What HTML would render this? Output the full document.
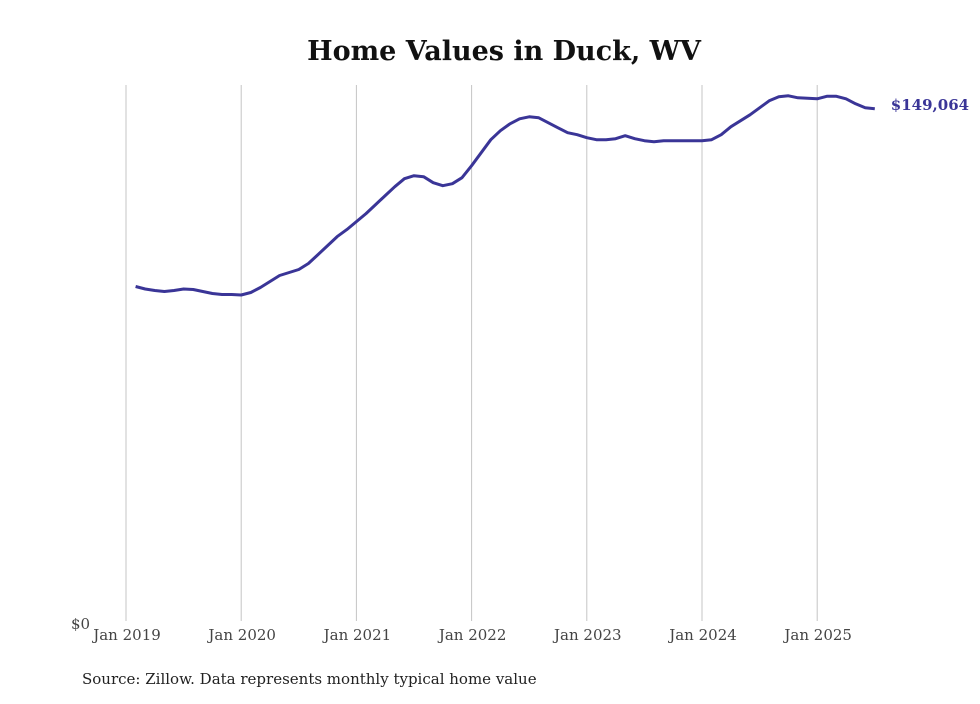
<!DOCTYPE html>
<html><head><meta charset="utf-8"><style>
body{margin:0;background:#fff;}
svg text{font-family:"DejaVu Serif","Liberation Serif",serif;}
</style></head><body>
<svg width="980" height="699">
<text x="504" y="60" text-anchor="middle" font-size="27" font-weight="bold" fill="#111">Home Values in Duck, WV</text>
<g id="grid"></g>
<g id="xlabels"></g>
<text x="71" y="629" font-size="15" fill="#444">$0</text>
<path id="line" fill="none" stroke="#3a3597" stroke-width="3" stroke-linejoin="round"></path>
<text id="lastLabel" font-size="15" font-weight="bold" fill="#3a3597"></text>
<text x="82" y="684" font-size="15" fill="#222">Source: Zillow. Data represents monthly typical home value</text>
</svg>
<script>
const tickLabels=["Jan 2019","Jan 2020","Jan 2021","Jan 2022","Jan 2023","Jan 2024","Jan 2025"];
const tickMonths=[0,12,24,36,48,60,72];
const startMonth=1;
const values=[97351,96625,96189,95898,96189,96625,96479,95898,95317,95026,95026,94881,95607,97060,98804,100548,101419,102291,104035,106650,109266,111881,113915,116240,118565,121180,123796,126411,128736,129608,129317,127573,126702,127283,129026,132514,136291,140069,142685,144719,146172,146753,146462,145009,143556,142103,141522,140650,140069,140069,140360,141232,140360,139779,139488,139779,139779,139779,139779,139779,140069,141522,143847,145591,147334,149368,151403,152565,152856,152274,152129,151984,152711,152711,151984,150531,149368,149064];
const lastLabel="$149,064";
const NS="http://www.w3.org/2000/svg";
const x0=126,pxPerMonth=9.6,yBottom=621,yTop=85,yMax=156000;
const xs=m=>x0+m*pxPerMonth;
const ys=v=>yBottom-(v/yMax)*(yBottom-yTop);
const grid=document.getElementById('grid'),xl=document.getElementById('xlabels');
tickMonths.forEach((m,i)=>{
 const l=document.createElementNS(NS,'line');
 l.setAttribute('x1',xs(m));l.setAttribute('x2',xs(m));l.setAttribute('y1',yTop);l.setAttribute('y2',yBottom);
 l.setAttribute('stroke','#c4c4c4');l.setAttribute('stroke-width','1');
 
 
 grid.appendChild(l);
 const t=document.createElementNS(NS,'text');
 t.setAttribute('x',xs(m)+1);t.setAttribute('y',640);t.setAttribute('text-anchor','middle');
 t.setAttribute('font-size','15');t.setAttribute('fill','#444');
 t.textContent=tickLabels[i];
 
 
 xl.appendChild(t);
});
let d='';
values.forEach((v,i)=>{d+=(i?'L':'M')+xs(startMonth+i).toFixed(1)+','+ys(v).toFixed(1);});
document.getElementById('line').setAttribute('d',d);
const lv=values[values.length-1],lm=startMonth+values.length-1;
const lt=document.getElementById('lastLabel');
lt.setAttribute('x',xs(lm)+16);lt.setAttribute('y',ys(lv)+1);
lt.textContent=lastLabel;
</script>
</body></html>
